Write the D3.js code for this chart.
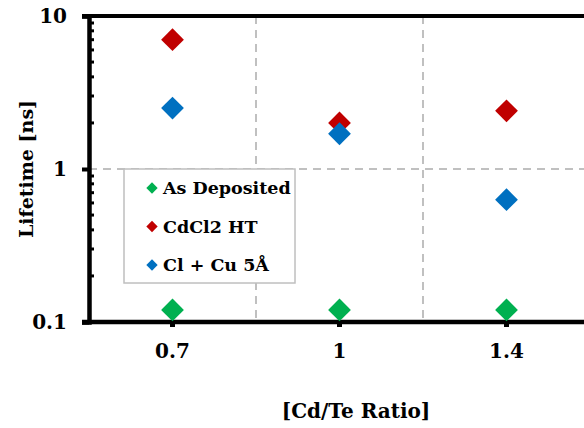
<!DOCTYPE html>
<html>
<head>
<meta charset="utf-8">
<script src="https://cdn.jsdelivr.net/npm/d3@7"></script>
<style>
  html, body { margin: 0; padding: 0; background: #fff; }
  svg { display: block; }
  text { font-family: "DejaVu Serif", "Liberation Serif", serif; font-weight: bold; fill: #000; }
</style>
</head>
<body>
<svg id="chart" width="584" height="428"></svg>
<script>
// Cd/Te ratio categories and measured carrier lifetimes (ns)
const ratios = ["0.7", "1", "1.4"];
const asDeposited = [0.12, 0.12, 0.12];
const cdcl2HT = [7.0, 2.0, 2.4];
const clCu5A = [2.5, 1.7, 0.63];
const seriesNames = ["As Deposited", "CdCl2 HT", "Cl + Cu 5Å"];
const seriesColors = ["#00B050", "#C00000", "#0070C0"];
const yTicks = [0.1, 1, 10];

const series = [asDeposited, cdcl2HT, clCu5A];

const svg = d3.select("#chart");
const plotL = 89, plotT = 16, plotB = 322, plotR = 590;

const x = d3.scaleBand().domain(ratios).range([plotL, plotR]);
const y = d3.scaleLog().domain([0.1, 10]).range([plotB, plotT]);

// dashed gridlines
const g = svg.append("g");
x.domain().slice(1).forEach(d => {
  g.append("line")
    .attr("x1", x(d)).attr("x2", x(d))
    .attr("y1", plotT).attr("y2", plotB)
    .attr("stroke", "#c0c0c0").attr("stroke-width", 2)
    .attr("stroke-dasharray", "8,6");
});
yTicks.slice(1, -1).forEach(v => {
  g.append("line")
    .attr("x1", plotL).attr("x2", plotR)
    .attr("y1", y(v)).attr("y2", y(v))
    .attr("stroke", "#c0c0c0").attr("stroke-width", 2)
    .attr("stroke-dasharray", "8,6");
});

// top frame line
svg.append("line")
  .attr("x1", plotL - 7).attr("x2", 584)
  .attr("y1", plotT).attr("y2", plotT)
  .attr("stroke", "#000").attr("stroke-width", 4);

// minor ticks (inside)
const minors = [];
[0.1, 1].forEach(b => { for (let k = 2; k <= 9; k++) minors.push(b * k); });
svg.append("g").selectAll("line").data(minors).join("line")
  .attr("x1", plotL).attr("x2", plotL + 5)
  .attr("y1", d => y(d)).attr("y2", d => y(d))
  .attr("stroke", "#000").attr("stroke-width", 3);

// y axis
const yAxis = svg.append("g")
  .attr("transform", `translate(${plotL},0)`)
  .call(d3.axisLeft(y).tickValues(yTicks).tickFormat(d3.format("~g")).tickSize(7).tickPadding(15));
yAxis.select(".domain").attr("stroke", "#000").attr("stroke-width", 4.5);
yAxis.selectAll(".tick line").attr("stroke", "#000").attr("stroke-width", 4);
yAxis.selectAll(".tick text")
  .style("font-family", "DejaVu Serif, serif").style("font-weight", "bold")
  .style("font-size", "20px").attr("fill", "#000");

// x axis
const xAxis = svg.append("g")
  .attr("transform", `translate(0,${plotB})`)
  .call(d3.axisBottom(x).tickSize(5).tickPadding(17).tickSizeOuter(0));
xAxis.select(".domain").attr("stroke", "#000").attr("stroke-width", 4.5)
  .attr("d", `M${plotL - 7},0H${584}`);
xAxis.selectAll(".tick line").attr("stroke", "#000").attr("stroke-width", 5);
xAxis.selectAll(".tick text")
  .style("font-family", "DejaVu Serif, serif").style("font-weight", "bold")
  .style("font-size", "20px").attr("fill", "#000");

// axis titles
svg.append("text")
  .attr("transform", `translate(33,${(plotT + plotB) / 2}) rotate(-90)`)
  .attr("text-anchor", "middle")
  .style("font-size", "19px")
  .text("Lifetime [ns]");
svg.append("text")
  .attr("x", 356).attr("y", 418)
  .attr("text-anchor", "middle")
  .style("font-size", "20px")
  .text("[Cd/Te Ratio]");

// legend box
const leg = svg.append("g");
leg.append("rect")
  .attr("x", 124).attr("y", 169).attr("width", 171).attr("height", 114)
  .attr("fill", "#fff").attr("stroke", "#bfbfbf").attr("stroke-width", 1.5);
const marker = d3.symbol().type(d3.symbolSquare);
seriesNames.forEach((name, i) => {
  const cy = 188 + i * 38.5;
  leg.append("path")
    .attr("d", marker.size(64)())
    .attr("transform", `translate(152,${cy}) rotate(45)`)
    .attr("fill", seriesColors[i]);
  leg.append("text")
    .attr("x", 163).attr("y", cy + 6)
    .style("font-size", "17.5px")
    .text(name);
});

// data markers
series.forEach((vals, i) => {
  svg.append("g").selectAll("path").data(vals).join("path")
    .attr("d", d3.symbol().type(d3.symbolSquare).size(260)())
    .attr("transform", (d, j) => `translate(${x(ratios[j]) + x.bandwidth() / 2},${y(d)}) rotate(45)`)
    .attr("fill", seriesColors[i]);
});
</script>
</body>
</html>
